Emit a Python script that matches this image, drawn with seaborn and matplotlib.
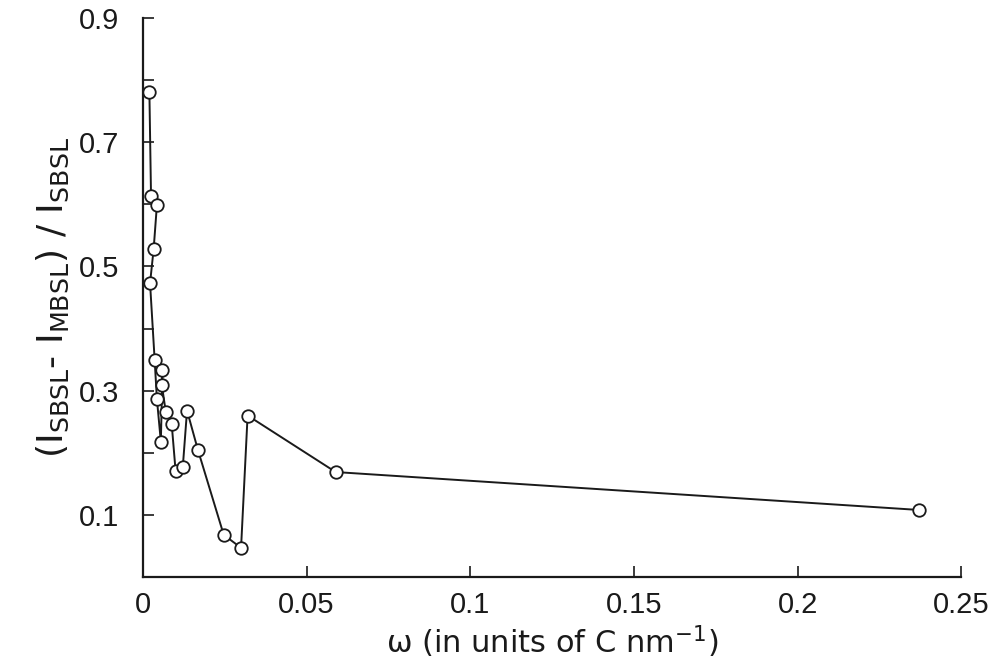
import matplotlib
matplotlib.use("Agg")
import matplotlib.pyplot as plt
import seaborn as sns
import pandas as pd

# valores, en el orden en que los une la linea
omega = [0.0020, 0.0025, 0.0043, 0.0033, 0.0022, 0.0036, 0.0043, 0.0055,
         0.0060, 0.0058, 0.0070, 0.0088, 0.0100, 0.0122, 0.0135, 0.0168,
         0.0247, 0.0300, 0.0320, 0.0589, 0.2370]
ratio = [0.780, 0.613, 0.599, 0.528, 0.473, 0.350, 0.286, 0.218,
         0.333, 0.309, 0.266, 0.247, 0.171, 0.177, 0.268, 0.205,
         0.068, 0.047, 0.260, 0.169, 0.108]

x_ticks = [0, 0.05, 0.1, 0.15, 0.2, 0.25]
x_labels = ["0", "0.05", "0.1", "0.15", "0.2", "0.25"]
y_major = [0.1, 0.3, 0.5, 0.7, 0.9]
y_minor = [0.2, 0.4, 0.6, 0.8]

datos = pd.DataFrame({"omega": omega, "ratio": ratio})

sns.set_style("ticks")
plt.rcParams["font.family"] = ["Liberation Sans", "DejaVu Sans"]

fig = plt.figure(figsize=(9.92, 6.61), dpi=100)
ax = fig.add_axes([0.144, 0.127, 0.825, 0.846])

# estimator=None para que no promedie los puntos con el mismo omega
sns.lineplot(data=datos, x="omega", y="ratio", sort=False, estimator=None,
             color="#1a1a1a", linewidth=1.4, marker="o", markersize=9,
             markerfacecolor="white", markeredgecolor="#1a1a1a",
             markeredgewidth=1.3, ax=ax)

ax.set_xlim(0, 0.25)
ax.set_ylim(0, 0.9)
ax.set_xticks(x_ticks)
ax.set_xticklabels(x_labels)
ax.set_yticks(y_major)
ax.set_yticklabels([str(v) for v in y_major])
ax.set_yticks(y_minor, minor=True)

ax.tick_params(axis="both", which="both", direction="in", length=8, width=1.2,
               labelsize=21, color="#1a1a1a", labelcolor="#1a1a1a")
ax.tick_params(axis="y", which="both", pad=17)
ax.tick_params(axis="x", which="both", pad=10)

sns.despine(ax=ax)
for lado in ["left", "bottom"]:
    ax.spines[lado].set_linewidth(1.6)
    ax.spines[lado].set_color("#1a1a1a")

ax.set_xlabel("ω (in units of C nm$^{-1}$)", fontsize=22, color="#1a1a1a",
              labelpad=3, family=["DejaVu Sans"])
ax.set_ylabel("(I$_{\\mathrm{SBSL}}$- I$_{\\mathrm{MBSL}}$) / I$_{\\mathrm{SBSL}}$",
              fontsize=26, color="#1a1a1a", labelpad=6, family=["DejaVu Sans"])

fig.savefig("out.png", dpi=100, facecolor="white")
